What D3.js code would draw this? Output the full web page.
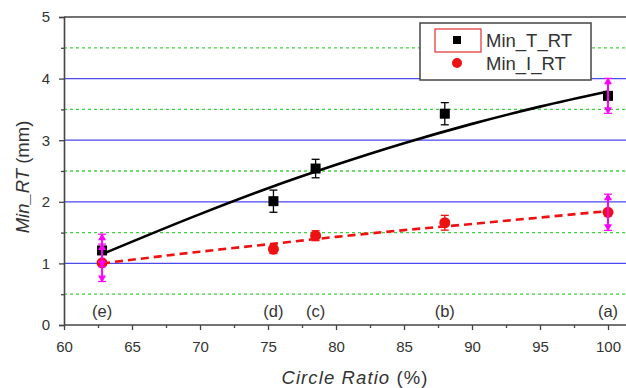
<!DOCTYPE html>
<html>
<head>
<meta charset="utf-8">
<script src="https://cdn.jsdelivr.net/npm/d3@7"></script>
<style>
  html, body { margin: 0; padding: 0; background: #fff; }
  svg { display: block; font-family: Arial, "Liberation Sans", sans-serif; }
</style>
</head>
<body>
<svg id="chart" width="626" height="388"></svg>
<script>
// Circle ratio (%) of each specimen and its case tag
const ratios = [62.8, 75.4, 78.5, 88.0, 100.0];
const caseLabels = ["(e)", "(d)", "(c)", "(b)", "(a)"];

// Measured minimum residual thickness (mm) with error half-widths
const minT = [1.21, 2.01, 2.54, 3.43, 3.72];
const minTErr = [0.28, 0.18, 0.15, 0.18, 0.30];
const minI = [1.01, 1.23, 1.45, 1.66, 1.83];
const minIErr = [0.32, 0.07, 0.08, 0.12, 0.31];

// Cases whose spread is flagged with the magenta range markers
const flaggedCases = ["(e)", "(a)"];

// Trend curves through the two series
const fitX = [62.8, 70, 75, 80, 85, 90, 95, 100];
const fitT = [1.15, 1.80, 2.22, 2.60, 2.95, 3.265, 3.545, 3.79];
const fitI = [1.00, 1.19, 1.31, 1.43, 1.54, 1.64, 1.745, 1.85];

// Axis ticks
const xTicks = [60, 65, 70, 75, 80, 85, 90, 95, 100];
const xMinorTicks = [62.5, 67.5, 72.5, 77.5, 82.5, 87.5, 92.5, 97.5];
const yTicks = [0, 1, 2, 3, 4, 5];
const yMinorTicks = [0.5, 1.5, 2.5, 3.5, 4.5];

const seriesNames = ["Min_T_RT", "Min_I_RT"];

const svg = d3.select("#chart");
const x = d3.scaleLinear().domain([60, 101.5]).range([64, 628.4]);
const y = d3.scaleLinear().domain([0, 5]).range([325, 17]);
const axisColor = "#444";
const textColor = "#333";

// Grid: solid blue at integers, dotted green at halves
svg.append("g").selectAll("line").data(yMinorTicks).join("line")
  .attr("x1", x(60)).attr("x2", 626)
  .attr("y1", d => y(d)).attr("y2", d => y(d))
  .attr("stroke", "#3fd23f").attr("stroke-width", 1.3)
  .attr("stroke-dasharray", "3,3");
svg.append("g").selectAll("line").data(yTicks.filter(v => v > 0 && v < 5)).join("line")
  .attr("x1", x(60)).attr("x2", 626)
  .attr("y1", d => y(d)).attr("y2", d => y(d))
  .attr("stroke", "#4a4af0").attr("stroke-width", 1.3);

// Top frame line
svg.append("line")
  .attr("x1", x(60)).attr("x2", 626).attr("y1", y(5)).attr("y2", y(5))
  .attr("stroke", axisColor).attr("stroke-width", 1.5);

// Trend curves
const line = d3.line().x(d => x(d[0])).y(d => y(d[1])).curve(d3.curveMonotoneX);
svg.append("path")
  .attr("d", line(fitX.map((v, i) => [v, fitT[i]])))
  .attr("fill", "none").attr("stroke", "#000").attr("stroke-width", 2.6);
svg.append("path")
  .attr("d", line(fitX.map((v, i) => [v, fitI[i]])))
  .attr("fill", "none").attr("stroke", "#ee1111").attr("stroke-width", 2.6)
  .attr("stroke-dasharray", "8,5");

// Error bars (normal cases)
function errorBars(vals, errs, color) {
  const g = svg.append("g").attr("stroke", color).attr("stroke-width", 1.3);
  ratios.forEach((r, i) => {
    if (flaggedCases.includes(caseLabels[i])) return;
    const cx = x(r), y1 = y(vals[i] + errs[i]), y2 = y(vals[i] - errs[i]);
    g.append("line").attr("x1", cx).attr("x2", cx).attr("y1", y1).attr("y2", y2);
    g.append("line").attr("x1", cx - 4).attr("x2", cx + 4).attr("y1", y1).attr("y2", y1);
    g.append("line").attr("x1", cx - 4).attr("x2", cx + 4).attr("y1", y2).attr("y2", y2);
  });
}
errorBars(minT, minTErr, "#000");
errorBars(minI, minIErr, "#ee1111");

// Markers
svg.append("g").selectAll("circle").data(ratios).join("circle")
  .attr("cx", d => x(d)).attr("cy", (d, i) => y(minI[i])).attr("r", 5.5)
  .attr("fill", "#ee1111");
svg.append("g").selectAll("rect").data(ratios).join("rect")
  .attr("x", d => x(d) - 5).attr("y", (d, i) => y(minT[i]) - 5)
  .attr("width", 10).attr("height", 10).attr("fill", "#000");

// Magenta range markers for the flagged cases
function rangeMarkers(vals, errs) {
  const g = svg.append("g");
  ratios.forEach((r, i) => {
    if (!flaggedCases.includes(caseLabels[i])) return;
    const cx = x(r), yt = y(vals[i] + errs[i]), yb = y(vals[i] - errs[i]);
    g.append("line").attr("x1", cx).attr("x2", cx).attr("y1", yt + 2).attr("y2", yb - 2)
      .attr("stroke", "#ff00ff").attr("stroke-width", 2);
    g.append("path").attr("d", `M${cx - 4},${yt + 7}L${cx},${yt}L${cx + 4},${yt + 7}Z`)
      .attr("fill", "#ff00ff");
    g.append("path").attr("d", `M${cx - 4},${yb - 7}L${cx},${yb}L${cx + 4},${yb - 7}Z`)
      .attr("fill", "#ff00ff");
    g.append("line").attr("x1", cx - 4).attr("x2", cx + 4).attr("y1", yt + 1).attr("y2", yt + 1)
      .attr("stroke", "#ff00ff").attr("stroke-width", 1.2);
    g.append("line").attr("x1", cx - 4).attr("x2", cx + 4).attr("y1", yb - 1).attr("y2", yb - 1)
      .attr("stroke", "#ff00ff").attr("stroke-width", 1.2);
  });
}
rangeMarkers(minT, minTErr);
rangeMarkers(minI, minIErr);

// Case tags above the x axis
svg.append("g").selectAll("text").data(ratios).join("text")
  .attr("x", d => x(d)).attr("y", 317)
  .attr("text-anchor", "middle").attr("font-size", 16.5).attr("fill", textColor)
  .text((d, i) => caseLabels[i]);

// Axes
const xAxis = svg.append("g").attr("transform", `translate(0,${y(0)})`)
  .call(d3.axisBottom(x).tickValues(xTicks).tickSize(5).tickPadding(11).tickFormat(d3.format("d")));
svg.append("g").attr("transform", `translate(0,${y(0)})`)
  .call(d3.axisBottom(x).tickValues(xMinorTicks).tickSize(3).tickFormat(""))
  .select(".domain").remove();
const yAxis = svg.append("g").attr("transform", `translate(${x(60)},0)`)
  .call(d3.axisLeft(y).tickValues(yTicks).tickSize(5).tickPadding(9).tickFormat(d3.format("d")));
svg.append("g").attr("transform", `translate(${x(60)},0)`)
  .call(d3.axisLeft(y).tickValues(yMinorTicks).tickSize(3).tickFormat(""))
  .select(".domain").remove();
svg.selectAll(".domain").attr("stroke", axisColor).attr("stroke-width", 1.6);
svg.selectAll(".tick line").attr("stroke", axisColor).attr("stroke-width", 1.3);
svg.selectAll(".tick text").attr("font-size", 15).attr("fill", textColor)
  .attr("font-family", "Arial, 'Liberation Sans', sans-serif");
xAxis.selectAll(".domain").attr("d", `M${x(60)},0H626`);

// Axis titles
const xTitle = svg.append("text").attr("x", 355).attr("y", 384)
  .attr("text-anchor", "middle").attr("font-size", 18.5).attr("fill", textColor)
  .attr("letter-spacing", 1.1);
xTitle.append("tspan").attr("font-style", "italic").text("Circle Ratio");
xTitle.append("tspan").text(" (%)");

const yTitle = svg.append("text")
  .attr("transform", "translate(29,177) rotate(-90)")
  .attr("text-anchor", "middle").attr("font-size", 18.5).attr("fill", textColor);
yTitle.append("tspan").attr("font-style", "italic").text("Min_RT");
yTitle.append("tspan").text(" (mm)");

// Legend
const legend = svg.append("g");
legend.append("rect").attr("x", 420).attr("y", 23).attr("width", 171).attr("height", 57)
  .attr("fill", "#fff").attr("stroke", axisColor).attr("stroke-width", 1.5);
legend.append("rect").attr("x", 435).attr("y", 29).attr("width", 46).attr("height", 23)
  .attr("fill", "none").attr("stroke", "#e03030").attr("stroke-width", 1.2);
legend.append("rect").attr("x", 453).attr("y", 36).attr("width", 8).attr("height", 8).attr("fill", "#000");
legend.append("circle").attr("cx", 457).attr("cy", 63).attr("r", 5).attr("fill", "#ee1111");
legend.selectAll("text.lbl").data(seriesNames).join("text").attr("class", "lbl")
  .attr("x", 486).attr("y", (d, i) => 47 + i * 23)
  .attr("font-size", 18.5).attr("fill", textColor).text(d => d);
</script>
</body>
</html>
